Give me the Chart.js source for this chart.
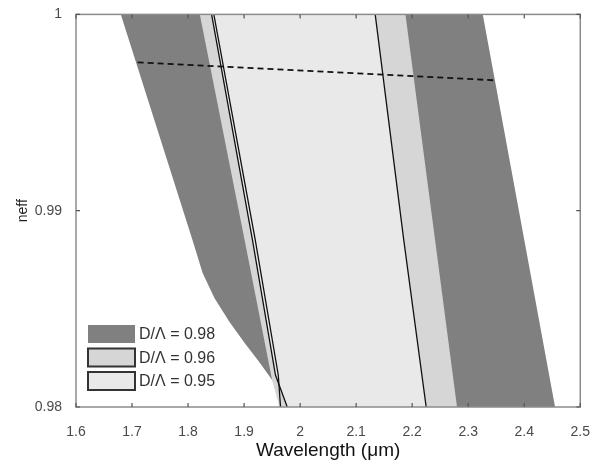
<!DOCTYPE html>
<html>
<head>
<meta charset="utf-8">
<script src="https://cdn.jsdelivr.net/npm/chart.js@4.4.1/dist/chart.umd.min.js"></script>
<style>
  html, body { margin: 0; padding: 0; background: #fff; }
  #wrap { width: 599px; height: 465px; }
</style>
</head>
<body>
<div id="wrap"><canvas id="neffChart" width="599" height="465"></canvas></div>
<script>
const xTicks = [1.6, 1.7, 1.8, 1.9, 2.0, 2.1, 2.2, 2.3, 2.4, 2.5];
const yTicks = [0.98, 0.99, 1.0];

// bandgap outlines: left edge top -> bottom, then right edge bottom -> top
const band98Lambda = [1.680, 1.808, 1.826, 1.847, 1.874, 1.901, 1.927, 1.950, 1.965, 1.970, 2.455, 2.326];
const band98Neff   = [1.000, 0.98850, 0.98682, 0.98555, 0.98433, 0.98326, 0.98229, 0.98137, 0.98061, 0.980, 0.980, 1.000];

const band96Lambda = [1.821, 1.901, 1.950, 1.963, 2.280, 2.188];
const band96Neff   = [1.000, 0.98850, 0.98137, 0.980, 0.980, 1.000];

const band95Lambda = [1.842, 1.915, 1.956, 1.977, 2.225, 2.185, 2.134];
const band95Neff   = [1.000, 0.98850, 0.98163, 0.980, 0.980, 0.98850, 1.000];

// edges of the D/Λ = 0.95 gap
const edgeLeftLambda  = [1.842, 1.915, 1.956, 1.977];
const edgeLeftNeff    = [1.000, 0.98850, 0.98163, 0.980];
const edgeInnerLambda = [1.846, 1.920, 1.961, 1.965];
const edgeInnerNeff   = [1.000, 0.98850, 0.98163, 0.980];
const edgeRightLambda = [2.134, 2.185, 2.225];
const edgeRightNeff   = [1.000, 0.98850, 0.980];

// core mode line (dashed)
const coreLambda = [1.710, 2.349];
const coreNeff   = [0.99756, 0.99664];

const toPoints = (xs, ys) => xs.map((x, i) => ({x: x, y: ys[i]}));

const bands = [
  {label: 'D/Λ = 0.98', lambda: band98Lambda, neff: band98Neff, color: '#808080', border: null, order: 3},
  {label: 'D/Λ = 0.96', lambda: band96Lambda, neff: band96Neff, color: '#d6d6d6', border: '#333333', order: 2},
  {label: 'D/Λ = 0.95', lambda: band95Lambda, neff: band95Neff, color: '#e9e9e9', border: '#333333', order: 1}
];

const font = '"Liberation Sans", Arial, sans-serif';

const bandDatasets = bands.map(b => ({
  label: b.label,
  data: toPoints(b.lambda, b.neff),
  showLine: true,
  fill: 'shape',
  backgroundColor: b.color,
  borderWidth: 0,
  pointRadius: 0,
  order: b.order
}));

const lineDataset = (xs, ys, dash, width) => ({
  label: '',
  data: toPoints(xs, ys),
  showLine: true,
  fill: false,
  borderColor: '#111',
  borderWidth: width,
  borderDash: dash,
  pointRadius: 0,
  order: 0
});

// inward ticks and box frame, matlab style
const frameTicks = {
  id: 'frameTicks',
  afterDatasetsDraw(chart) {
    const {ctx, chartArea: a, scales: {x, y}} = chart;
    ctx.save();
    ctx.strokeStyle = '#8c8c8c';
    ctx.lineWidth = 1.5;
    ctx.strokeRect(a.left, a.top, a.right - a.left, a.bottom - a.top);
    ctx.strokeStyle = '#555';
    ctx.lineWidth = 1.2;
    ctx.beginPath();
    xTicks.forEach(v => {
      const px = x.getPixelForValue(v);
      ctx.moveTo(px, a.bottom); ctx.lineTo(px, a.bottom - 4);
      ctx.moveTo(px, a.top); ctx.lineTo(px, a.top + 4);
    });
    yTicks.forEach(v => {
      const py = y.getPixelForValue(v);
      ctx.moveTo(a.left, py); ctx.lineTo(a.left + 4, py);
      ctx.moveTo(a.right, py); ctx.lineTo(a.right - 4, py);
    });
    ctx.stroke();
    ctx.restore();
  }
};

// legend boxes in the lower left corner of the plot
const bandLegend = {
  id: 'bandLegend',
  afterDraw(chart) {
    const {ctx, chartArea: a} = chart;
    const x0 = a.left + 12, w = 47, h = 18, pitch = 23.5;
    const y0 = a.bottom - 82;
    ctx.save();
    ctx.font = '16px ' + font;
    ctx.textBaseline = 'middle';
    ctx.fillStyle = '#333';
    bands.forEach((b, i) => {
      const yy = y0 + i * pitch;
      ctx.fillStyle = b.color;
      ctx.fillRect(x0, yy, w, h);
      if (b.border) {
        ctx.strokeStyle = b.border;
        ctx.lineWidth = 2;
        ctx.strokeRect(x0, yy, w, h);
      }
      ctx.fillStyle = '#333';
      ctx.fillText(b.label, x0 + w + 4, yy + h / 2 + 1);
    });
    ctx.restore();
  }
};

new Chart(document.getElementById('neffChart'), {
  type: 'scatter',
  data: {
    datasets: [
      lineDataset(coreLambda, coreNeff, [6, 4], 1.8),
      lineDataset(edgeLeftLambda, edgeLeftNeff, [], 1.3),
      lineDataset(edgeInnerLambda, edgeInnerNeff, [], 1.3),
      lineDataset(edgeRightLambda, edgeRightNeff, [], 1.3),
      ...bandDatasets
    ]
  },
  options: {
    responsive: false,
    animation: false,
    events: [],
    layout: {padding: {top: 14, right: 17, left: 0, bottom: 0}},
    plugins: {
      legend: {display: false},
      tooltip: {enabled: false}
    },
    scales: {
      x: {
        type: 'linear',
        min: 1.6,
        max: 2.5,
        afterFit: s => { s.height = 58; },
        afterBuildTicks: s => { s.ticks = xTicks.map(v => ({value: v})); },
        grid: {display: false},
        border: {display: false},
        ticks: {
          padding: 9,
          color: '#4a4a4a',
          font: {family: font, size: 14},
          maxRotation: 0,
          callback: v => String(+v.toFixed(2))
        },
        title: {
          display: true,
          text: 'Wavelength (μm)',
          color: '#111',
          font: {family: font, size: 19},
          padding: {top: 0, bottom: 3}
        }
      },
      y: {
        type: 'linear',
        min: 0.98,
        max: 1.0,
        afterFit: s => { s.width = 76; },
        afterBuildTicks: s => { s.ticks = yTicks.map(v => ({value: v})); },
        grid: {display: false},
        border: {display: false},
        ticks: {
          padding: 6,
          color: '#4a4a4a',
          font: {family: font, size: 14},
          callback: v => String(+v.toFixed(3))
        },
        title: {
          display: true,
          text: 'neff',
          color: '#222',
          font: {family: font, size: 14},
          padding: {top: 15, bottom: 0}
        }
      }
    }
  },
  plugins: [frameTicks, bandLegend]
});
</script>
</body>
</html>
